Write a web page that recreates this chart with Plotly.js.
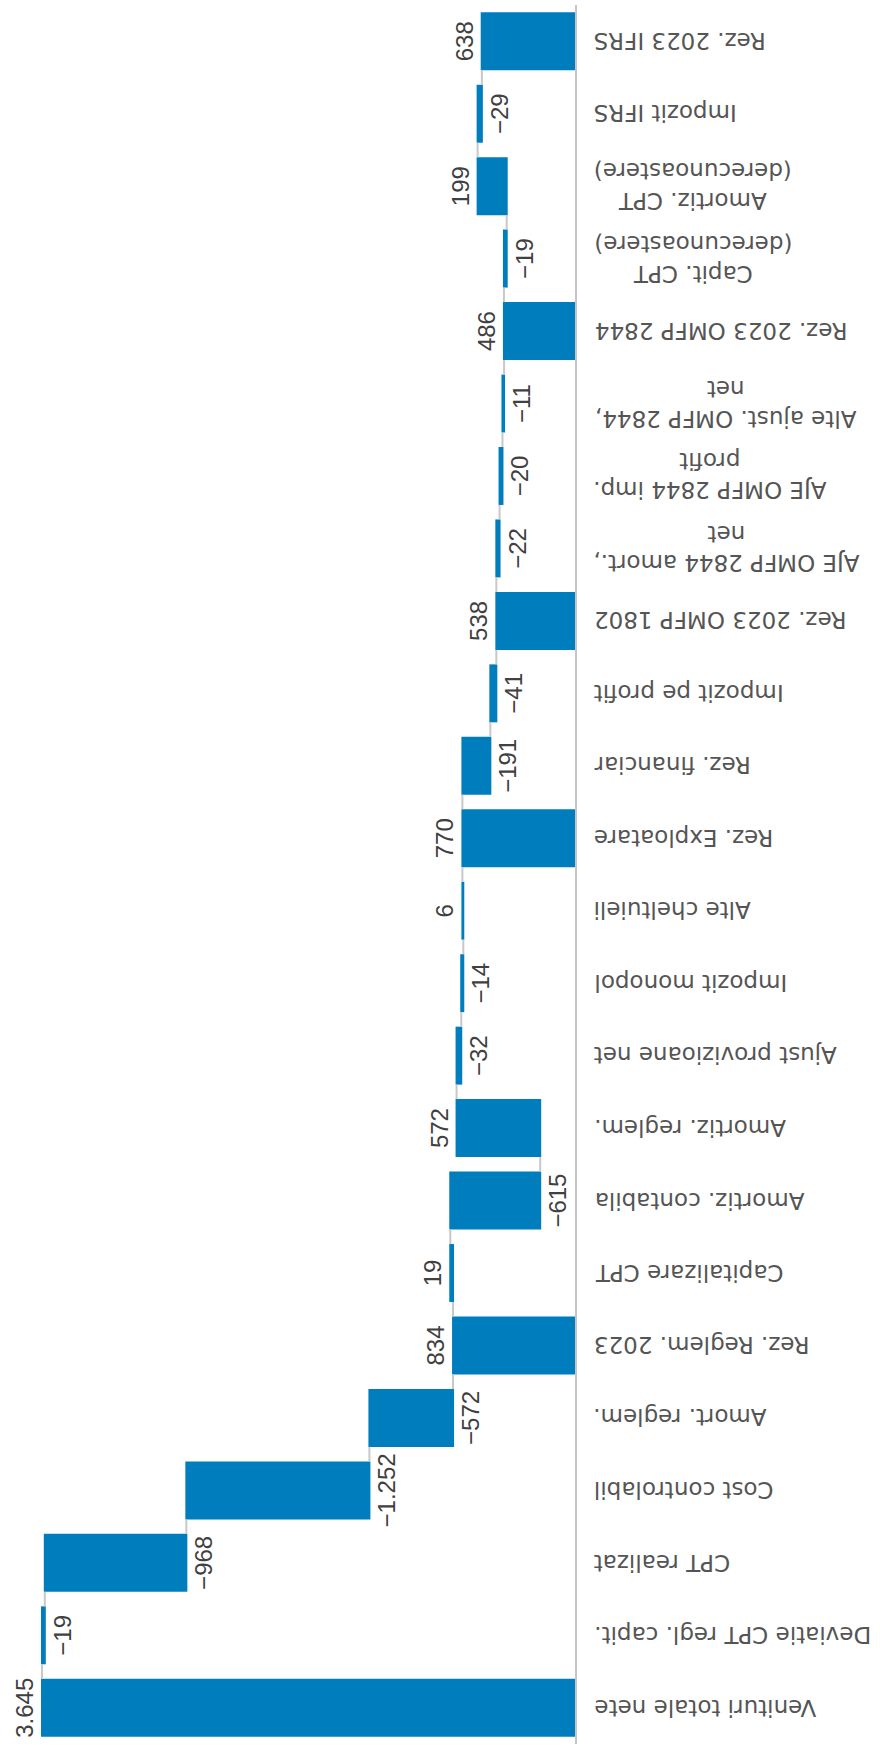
<!DOCTYPE html>
<html>
<head>
<meta charset="utf-8">
<script src="https://cdn.plot.ly/plotly-3.0.1.min.js"></script>
<style>
html,body{margin:0;padding:0;width:880px;height:1745px;overflow:hidden;background:#ffffff;}
#chart{position:absolute;left:0;top:0;width:1745px;height:880px;transform-origin:0 0;transform:translate(0px,1745px) rotate(-90deg);}
</style>
</head>
<body>
<div id="chart"></div>
<script>
const categories = [
  "Venituri totale nete",
  "Deviatie CPT regl. capit.",
  "CPT realizat",
  "Cost controlabil",
  "Amort. reglem.",
  "Rez. Reglem. 2023",
  "Capitalizare CPT",
  "Amortiz. contabila",
  "Amortiz. reglem.",
  "Ajust provizioane net",
  "Impozit monopol",
  "Alte cheltuieli",
  "Rez. Exploatare",
  "Rez. financiar",
  "Impozit pe profit",
  "Rez. 2023 OMFP 1802",
  "AJE OMFP 2844 amort.,<br>net",
  "AJE OMFP 2844 imp.<br>profit",
  "Alte ajust. OMFP 2844,<br>net",
  "Rez. 2023 OMFP 2844",
  "Capit. CPT<br>(derecunoastere)",
  "Amortiz. CPT<br>(derecunoastere)",
  "Impozit IFRS",
  "Rez. 2023 IFRS"
];
const values = [3645, -19, -968, -1252, -572, 834, 19, -615, 572, -32, -14, 6, 770, -191, -41, 538, -22, -20, -11, 486, -19, 199, -29, 638];
const measures = ["absolute","relative","relative","relative","relative","absolute","relative","relative","relative","relative","relative","relative","absolute","relative","relative","absolute","relative","relative","relative","absolute","relative","relative","relative","absolute"];

function fmt(v){
  const s = Math.abs(v).toString().replace(/\B(?=(\d{3})+(?!\d))/g, '.');
  return (v < 0 ? '\u2212' : '') + s;
}
const labels = values.map(fmt);

const BAR = '#007dbd';
const trace = {
  type: 'waterfall',
  orientation: 'v',
  x: categories,
  y: values,
  measure: measures,
  text: labels,
  textposition: 'outside',
  textangle: 0,
  constraintext: 'none',
  cliponaxis: false,
  textfont: {family: 'Liberation Sans, Arial, sans-serif', size: 24, color: '#404040'},
  increasing: {marker: {color: BAR}},
  decreasing: {marker: {color: BAR}},
  totals: {marker: {color: BAR}},
  connector: {mode: 'between', line: {color: '#c8c8c8', width: 2}},
  hoverinfo: 'skip'
};

const annotations = categories.map(c => ({
  x: c, xref: 'x', y: 0, yref: 'paper',
  text: c, showarrow: false, textangle: -90,
  xanchor: 'center', yanchor: 'top', yshift: -17, align: 'center',
  font: {family: 'DejaVu Sans, sans-serif', size: 23, color: '#555555'}
}));

const layout = {
  width: 1745, height: 880,
  margin: {l: 1, r: 5, t: 10, b: 305},
  paper_bgcolor: '#ffffff', plot_bgcolor: '#ffffff',
  showlegend: false,
  bargap: 0.32,
  xaxis: {type: 'category', showticklabels: false, ticks: '', showgrid: false,
          showline: true, linecolor: '#c6c6c6', linewidth: 2, zeroline: false},
  yaxis: {range: [0, 3864], visible: false, showgrid: false, zeroline: false},
  annotations: annotations
};

Plotly.newPlot('chart', [trace], layout, {staticPlot: true, displayModeBar: false});
</script>
</body>
</html>
